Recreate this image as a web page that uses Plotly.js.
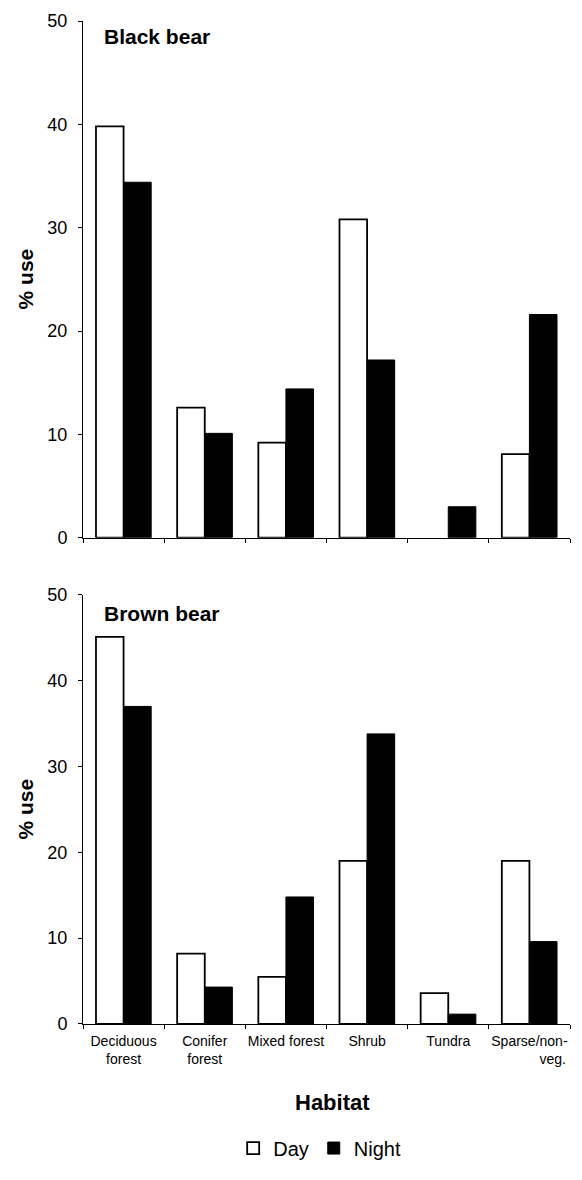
<!DOCTYPE html>
<html>
<head>
<meta charset="utf-8">
<script src="https://cdn.plot.ly/plotly-3.0.1.min.js"></script>
<style>html,body{margin:0;padding:0;background:#fff;}#chart{width:582px;height:1180px;}</style>
</head>
<body>
<div id="chart"></div>
<script>
const categories = ["Deciduous forest", "Conifer forest", "Mixed forest", "Shrub", "Tundra", "Sparse/non-veg."];
const tickLabels = ["Deciduous<br>forest", "Conifer<br>forest", "Mixed forest", "Shrub", "Tundra",
  "Sparse/non-<br>\u00a0\u00a0\u00a0\u00a0\u00a0\u00a0\u00a0\u00a0\u00a0\u00a0\u00a0\u00a0veg."];
const blackBearDay = [39.8, 12.6, 9.2, 30.8, 0, 8.1];
const blackBearNight = [34.4, 10.1, 14.4, 17.2, 3.0, 21.6];
const brownBearDay = [45.1, 8.2, 5.5, 19.0, 3.6, 19.0];
const brownBearNight = [37.0, 4.3, 14.8, 33.8, 1.15, 9.6];
const yTicks = [0, 10, 20, 30, 40, 50];

const FONT = "Arial, 'Liberation Sans', sans-serif";
// empty bars (value 0) get no outline so nothing is drawn, as in the original
function dayStyle(vals) {
  return {color: "#ffffff", line: {color: "#000000", width: vals.map(v => v > 0 ? 1.8 : 0)}};
}
function nightStyle(vals) {
  return {color: "#000000", line: {color: "#000000", width: vals.map(v => v > 0 ? 1 : 0)}};
}

const traces = [
  {type: "bar", name: "Day", x: categories, y: blackBearDay, marker: dayStyle(blackBearDay), xaxis: "x", yaxis: "y", legendgroup: "day", showlegend: true},
  {type: "bar", name: "Night", x: categories, y: blackBearNight, marker: nightStyle(blackBearNight), xaxis: "x", yaxis: "y", legendgroup: "night", showlegend: true},
  {type: "bar", name: "Day", x: categories, y: brownBearDay, marker: dayStyle(brownBearDay), xaxis: "x2", yaxis: "y2", legendgroup: "day", showlegend: false},
  {type: "bar", name: "Night", x: categories, y: brownBearNight, marker: nightStyle(brownBearNight), xaxis: "x2", yaxis: "y2", legendgroup: "night", showlegend: false}
];

const yAxisBase = {
  range: [0, 50], tickvals: yTicks, ticks: "outside", ticklen: 4, tickwidth: 1, tickcolor: "#000",
  showline: true, linecolor: "#000", linewidth: 1, showgrid: false, zeroline: false,
  tickfont: {family: FONT, size: 18, color: "#000"}, ticklabelstandoff: 7, fixedrange: true
};
const xAxisBase = {
  type: "category", range: [-0.5, 5.5], ticks: "outside", tickson: "boundaries", ticklen: 4, tickwidth: 1, tickcolor: "#000",
  showline: true, linecolor: "#000", linewidth: 1, showgrid: false, zeroline: false, fixedrange: true,
  tickfont: {family: FONT, size: 14, color: "#000"}
};

const layout = {
  width: 582, height: 1180,
  margin: {l: 83, r: 12, t: 21, b: 140, pad: 0},
  paper_bgcolor: "#fff", plot_bgcolor: "#fff",
  barmode: "group", bargap: 0.32, bargroupgap: 0,
  font: {family: FONT, color: "#000"},
  xaxis: Object.assign({}, xAxisBase, {anchor: "y", showticklabels: false}),
  yaxis: Object.assign({}, yAxisBase, {domain: [0.4848, 1], anchor: "x"}),
  xaxis2: Object.assign({}, xAxisBase, {anchor: "y2", showticklabels: true, tickvals: categories, ticktext: tickLabels, tickangle: 0, ticklabelstandoff: 4}),
  yaxis2: Object.assign({}, yAxisBase, {domain: [0, 0.4279], anchor: "x2"}),
  showlegend: true,
  legend: {orientation: "h", x: 0.486, xanchor: "center", y: -0.1237, yanchor: "middle",
    font: {family: FONT, size: 20, color: "#000"}, itemwidth: 30,
    traceorder: "normal", bgcolor: "rgba(0,0,0,0)"},
  annotations: [
    {text: "Black bear", xref: "paper", yref: "paper", x: 0.039, y: 0.9843, xanchor: "left", yanchor: "middle", showarrow: false,
      font: {family: FONT, size: 21, weight: "bold", color: "#000"}},
    {text: "Brown bear", xref: "paper", yref: "paper", x: 0.039, y: 0.4092, xanchor: "left", yanchor: "middle", showarrow: false,
      font: {family: FONT, size: 21, weight: "bold", color: "#000"}},
    {text: "% use", xref: "paper", yref: "paper", x: -0.119, y: 0.7424, xanchor: "center", yanchor: "middle", textangle: -90, showarrow: false,
      font: {family: FONT, size: 21, weight: "bold", color: "#000"}},
    {text: "% use", xref: "paper", yref: "paper", x: -0.119, y: 0.2139, xanchor: "center", yanchor: "middle", textangle: -90, showarrow: false,
      font: {family: FONT, size: 21, weight: "bold", color: "#000"}},
    {text: "Habitat", xref: "paper", yref: "paper", x: 0.513, y: -0.0785, xanchor: "center", yanchor: "middle", showarrow: false,
      font: {family: FONT, size: 22, weight: "bold", color: "#000"}}
  ]
};

Plotly.newPlot("chart", traces, layout, {displayModeBar: false, staticPlot: true});
</script>
</body>
</html>
